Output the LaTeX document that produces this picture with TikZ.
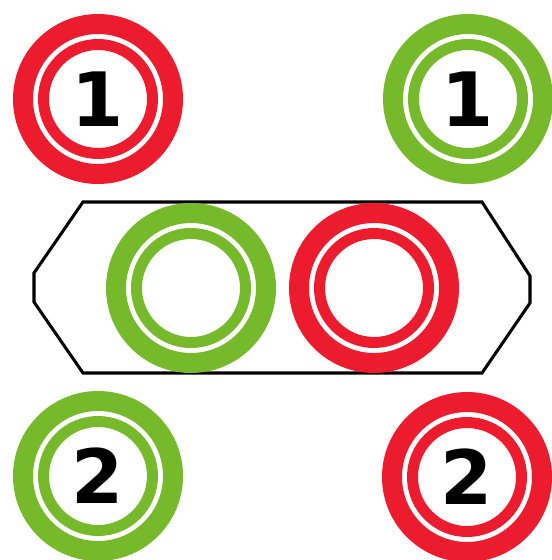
\documentclass[tikz,border=0pt]{standalone}
\usepackage{fontspec}
\setmainfont{DejaVu Sans}
\usetikzlibrary{positioning}

\definecolor{markred}{RGB}{236,28,46}
\definecolor{markgreen}{RGB}{118,185,42}

\begin{document}
\begin{tikzpicture}[
    x=0.03cm, y=-0.03cm,
    target/.style={circle, draw=#1, fill=white, line width=0.6cm,
                   minimum size=4.5cm, inner sep=0pt,
                   font=\fontsize{64}{64}\selectfont\bfseries},
    innerring/.style={draw=#1, line width=0.33cm},
    plate/.style={draw=black, line width=2.6pt, line join=miter}
]
\useasboundingbox (0,0) rectangle (551,560);

% Plate
\draw[plate] (83,202) -- (482,202) -- (530,276) -- (530,303)
    -- (482,373) -- (83,373) -- (34,302) -- (34,273) -- cycle;

% Targets
\node[target=markred]   (t1l) at (98,  99)  {1};
\node[target=markgreen] (t1r) at (468, 99)  {1};
\node[target=markgreen] (mg)  at (191, 288) {};
\node[target=markred]   (mr)  at (374, 288) {};
\node[target=markgreen] (t2l) at (98,  476) {2};
\node[target=markred]   (t2r) at (467, 477) {2};

% Inner rings
\foreach \n/\c in {t1l/markred, t1r/markgreen, mg/markgreen,
                   mr/markred, t2l/markgreen, t2r/markred}
    \draw[innerring=\c] (\n) circle (54.5);

\end{tikzpicture}
\end{document}
